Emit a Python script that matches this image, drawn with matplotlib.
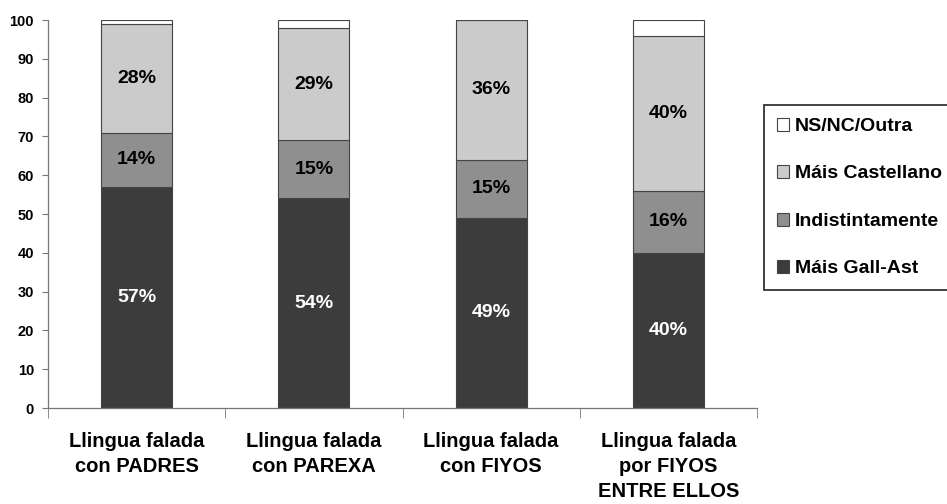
import matplotlib
matplotlib.use("Agg")
import matplotlib.pyplot as plt
import numpy as np

categorias = ["Llingua falada\ncon PADRES", "Llingua falada\ncon PAREXA",
              "Llingua falada\ncon FIYOS", "Llingua falada\npor FIYOS\nENTRE ELLOS"]
gall_ast = [57, 54, 49, 40]
indistint = [14, 15, 15, 16]
castellano = [28, 29, 36, 40]
ns_nc = [1, 2, 0, 4]

series = [("Máis Gall-Ast", gall_ast, "#3c3c3c", "white"),
          ("Indistintamente", indistint, "#8f8f8f", "black"),
          ("Máis Castellano", castellano, "#cbcbcb", "black"),
          ("NS/NC/Outra", ns_nc, "white", None)]

plt.rcParams["font.family"] = ["Liberation Sans", "DejaVu Sans"]
plt.rcParams["font.weight"] = "bold"

fig = plt.figure(figsize=(9.47, 5.04), dpi=100)
ax = fig.add_axes([48/947, 1-408/504, (757-48)/947, (408-20)/504])

x = np.arange(len(categorias))
base = np.zeros(len(categorias))
handles = []
for nome, vals, cor, cortxt in series:
    vals = np.array(vals, dtype=float)
    b = ax.bar(x, vals, 0.40, bottom=base, color=cor, edgecolor="#444444",
               linewidth=0.8, label=nome)
    handles.append(b)
    if cortxt:
        for xi, v, b0 in zip(x, vals, base):
            ax.text(xi, b0 + v/2, f"{int(v)}%", ha="center", va="center",
                    color=cortxt, fontsize=14, fontweight="bold")
    base += vals

ax.set_xlim(-0.5, 3.5)
ax.set_ylim(0, 100)
ax.set_yticks(range(0, 101, 10))
ax.tick_params(axis="y", labelsize=10.5, length=4, color="#777777", pad=6)
ax.set_xticks(x)
ax.set_xticklabels(categorias, fontsize=14.5, linespacing=1.42)
ax.tick_params(axis="x", which="major", length=0, pad=17)
ax.set_xticks(np.arange(-0.5, 4.0, 1.0), minor=True)
ax.tick_params(axis="x", which="minor", length=7, color="#777777")
for s in ["top", "right"]:
    ax.spines[s].set_visible(False)
for s in ["left", "bottom"]:
    ax.spines[s].set_color("#777777")
    ax.spines[s].set_linewidth(0.9)

leg = fig.legend(handles[::-1], [h.get_label() for h in handles[::-1]],
                 loc="upper left", bbox_to_anchor=(764/947, 1-105/504),
                 borderaxespad=0, fontsize=14, labelspacing=1.55,
                 handlelength=0.65, handleheight=0.65, handletextpad=0.3,
                 borderpad=0.65, fancybox=False, frameon=True)
leg.get_frame().set_edgecolor("black")
leg.get_frame().set_linewidth(1.3)

fig.savefig("out.png", dpi=100)
